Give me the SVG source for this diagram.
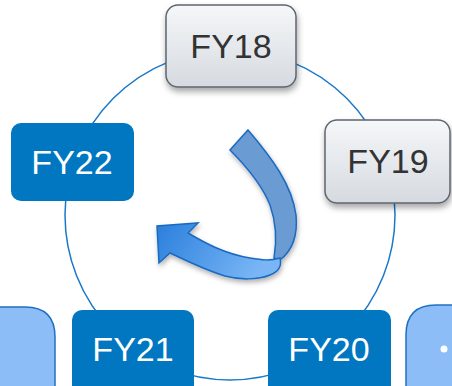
<svg xmlns="http://www.w3.org/2000/svg" width="452" height="386" viewBox="0 0 452 386">
<defs>
<style>
.lt{fill:url(#gl);stroke:#5d6670;stroke-width:1.5}
.dk{fill:#0077c0}
.t{font-family:"Liberation Sans",Arial,sans-serif;font-size:34px;text-anchor:middle}
.tl{fill:#333}
.tw{fill:#fff}
.side{fill:#8cbdf6;stroke:#2070c0;stroke-width:1.5}
</style>
<linearGradient id="gl" x1="0" y1="0" x2="0" y2="1">
<stop offset="0" stop-color="#f5f7f9"/>
<stop offset="1" stop-color="#d6dae0"/>
</linearGradient>
<linearGradient id="ga" x1="0" y1="0" x2="1" y2="0.3">
<stop offset="0" stop-color="#2a7fdc"/>
<stop offset="1" stop-color="#7ab6f5"/>
</linearGradient>
<filter id="sh" x="-20%" y="-20%" width="140%" height="150%">
<feDropShadow dx="1" dy="4" stdDeviation="3" flood-color="#000" flood-opacity="0.35"/>
</filter>
<filter id="sa" x="-20%" y="-20%" width="140%" height="150%">
<feDropShadow dx="1" dy="3" stdDeviation="2.5" flood-color="#000" flood-opacity="0.3"/>
</filter>
</defs>
<rect width="452" height="386" fill="#fff"/>
<g id="connectors">
<circle cx="230" cy="215" r="165" fill="none" stroke="#1a78c8" stroke-width="1.5"/>
</g>
<g id="cycle-arrow" filter="url(#sa)">
<path d="M248,130 C272,158 292,185 296,215 C298,236 293,250 280,260 L274,258 C277,240 276,222 270,205 C262,185 248,168 230,150 Z" fill="#6b9bd2" stroke="#1a6ac0" stroke-width="1.5"/>
<path d="M198,223 L188,233 C205,243 225,254 250,258 C262,260 270,261 280,258 C282,266 278,272 270,275 C258,280 240,280 225,276 C205,270 185,260 170,253 L159,263 L157,226 Z" fill="url(#ga)" stroke="#1a6ac0" stroke-width="1.5"/>
</g>
<g id="side-left">
<path class="side" d="M-2,307 L25,307 Q55,307 55,337 L55,392 L-2,392 Z"/>
</g>
<g id="side-right">
<path class="side" d="M454,305 L436,305 Q406,305 406,335 L406,392 L454,392 Z"/>
<circle cx="444" cy="349" r="3.5" fill="#fff"/>
</g>
<g id="fy18">
<rect class="lt" x="166" y="5" width="130" height="82" rx="12" filter="url(#sh)"/>
<text class="t tl" x="231" y="58">FY18</text>
</g>
<g id="fy19">
<rect class="lt" x="325" y="120" width="125" height="83" rx="12" filter="url(#sh)"/>
<text class="t tl" x="388" y="173">FY19</text>
</g>
<g id="fy20">
<rect class="dk" x="268" y="310" width="123" height="90" rx="10"/>
<text class="t tw" x="329" y="361">FY20</text>
</g>
<g id="fy21">
<rect class="dk" x="72" y="310" width="122" height="90" rx="10"/>
<text class="t tw" x="133" y="361">FY21</text>
</g>
<g id="fy22">
<rect class="dk" x="11" y="123" width="123" height="78" rx="10"/>
<text class="t tw" x="72" y="174">FY22</text>
</g>
</svg>
